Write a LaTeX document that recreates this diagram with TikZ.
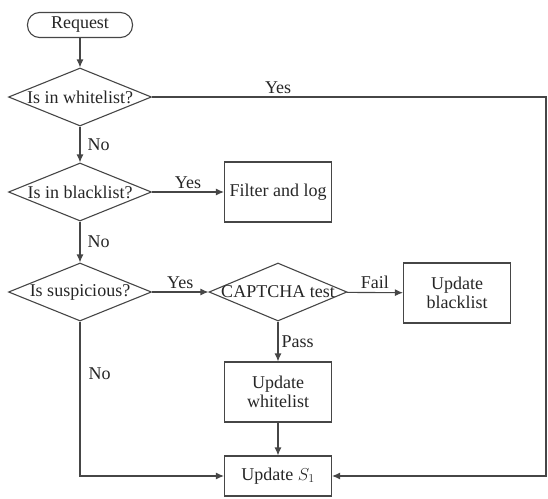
\documentclass[tikz,border=0pt]{standalone}
\usepackage{fontspec}
\setmainfont{Liberation Serif}
\usepackage{tikz}
\usetikzlibrary{positioning}
\usetikzlibrary{shapes.geometric}
\usetikzlibrary{arrows.meta}
\usepackage{xcolor}
\definecolor{flowline}{RGB}{70,70,70}
\tikzset{
  flow/.style={draw=flowline, line width=1.1pt},
  arr/.style={flow, -{Latex[length=8pt,width=7pt]}},
  startbox/.style={flow, rectangle, rounded corners=12pt, minimum width=105pt, minimum height=25pt, inner sep=0pt},
  actbox/.style={flow, rectangle, minimum width=107pt, minimum height=60pt, inner sep=0pt, align=center},
  decide/.style={flow, diamond, minimum width=143pt, minimum height=58pt, inner sep=0pt},
  tag/.style={inner sep=1pt}
}

\begin{document}
\begin{tikzpicture}[x=1pt, y=-1pt, font=\rmfamily\fontsize{18}{19}\selectfont, text=black!85]
	\useasboundingbox (0,0) rectangle (548,498);
	\node[startbox] (req) at (80,25) {Request};
	\node[decide, label={center:Is in whitelist?}] (white) at (80,97) {};
	\node[decide, label={center:Is in blacklist?}] (black) at (80,192) {};
	\node[decide, label={center:Is suspicious?}] (susp) at (80,292) {};
	\node[decide, minimum width=138pt, label={center:CAPTCHA test}] (captcha) at (278,292) {};
	\node[actbox] (filter) at (278,192) {Filter and log};
	\node[actbox] (ublack) at (457,293) {Update\\blacklist};
	\node[actbox] (uwhite) at (278,392) {Update\\whitelist};
	\node[actbox, minimum height=40pt] (s1) at (278,476) {Update $S_1$};
	\coordinate (edge) at (546,476);
	\draw[arr] (req) -- (white);
	\draw[arr] (white) -- (black) node[tag, midway, right=6pt] (no1) {No};
	\draw[arr] (black) -- (susp) node[tag, midway, right=6pt] (no2) {No};
	\draw[arr] (black) -- (filter) node[tag, midway, above=2pt] (yes2) {Yes};
	\draw[arr] (susp) -- (captcha) node[tag, midway, above=2pt] (yes3) {Yes};
	\draw[arr] (captcha) -- (ublack) node[tag, midway, above=2pt] (fail) {Fail};
	\draw[arr] (captcha) -- (uwhite) node[tag, midway, right=2pt] (pass) {Pass};
	\draw[arr] (uwhite) -- (s1);
	\draw[arr] (susp.south) |- (s1.west) node[tag, pos=0.17, right=7pt] (no3) {No};
	\draw[arr] (white.east) -- (white.east -| edge) node[tag, pos=0.32, above=2pt] (yes1) {Yes} -- (edge) -- (s1.east);
\end{tikzpicture}
\end{document}
